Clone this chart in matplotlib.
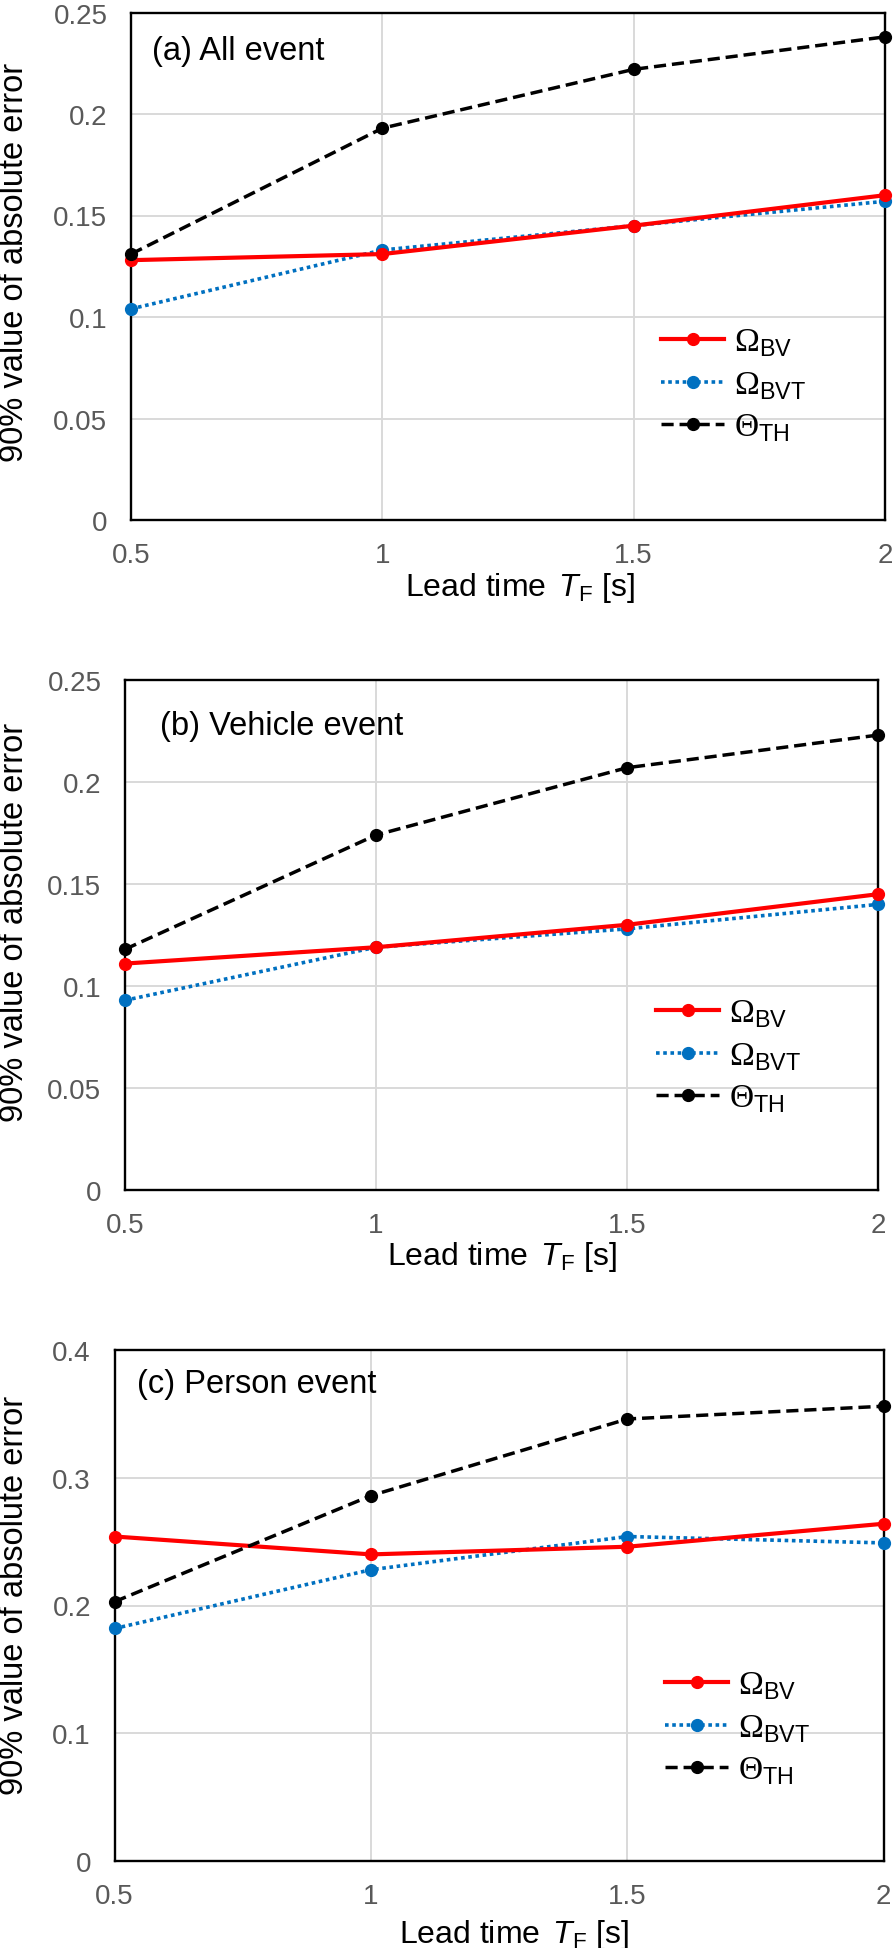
import matplotlib
matplotlib.use('Agg')
import matplotlib.pyplot as plt

# ---------------- data ----------------
lead_time = [0.5, 1.0, 1.5, 2.0]

all_bv = [0.128, 0.131, 0.145, 0.160]
all_bvt = [0.104, 0.133, 0.145, 0.157]
all_th = [0.131, 0.193, 0.222, 0.238]

veh_bv = [0.111, 0.119, 0.130, 0.145]
veh_bvt = [0.093, 0.119, 0.128, 0.140]
veh_th = [0.118, 0.174, 0.207, 0.223]

per_bv = [0.254, 0.240, 0.246, 0.264]
per_bvt = [0.182, 0.228, 0.254, 0.249]
per_th = [0.203, 0.286, 0.346, 0.356]

panel_titles = ['(a) All event', '(b) Vehicle event', '(c) Person event']
series_labels = ['Ω$_{\\mathrm{BV}}$', 'Ω$_{\\mathrm{BVT}}$', 'Θ$_{\\mathrm{TH}}$']
xticks = [0.5, 1.0, 1.5, 2.0]
xtick_labels = ['0.5', '1', '1.5', '2']
yticks_ab = [0, 0.05, 0.10, 0.15, 0.20, 0.25]
ytick_labels_ab = ['0', '0.05', '0.1', '0.15', '0.2', '0.25']
yticks_c = [0, 0.1, 0.2, 0.3, 0.4]
ytick_labels_c = ['0', '0.1', '0.2', '0.3', '0.4']
ylabel_text = '90% value of absolute error'
xlabel_text = r'Lead time $\,T_{\mathrm{F}}$ [s]'

# ---------------- style ----------------
plt.rcParams['font.family'] = ['Liberation Sans', 'DejaVu Sans']
plt.rcParams['mathtext.fontset'] = 'custom'
plt.rcParams['mathtext.rm'] = 'Liberation Sans'
plt.rcParams['mathtext.it'] = 'Liberation Sans:italic'
plt.rcParams['mathtext.bf'] = 'Liberation Sans:bold'

W, H = 894, 1949
fig = plt.figure(figsize=(W / 100, H / 100), dpi=100)

def px_rect(l, t, r, b):
    return [l / W, 1 - b / H, (r - l) / W, (b - t) / H]

panels = [
    dict(rect=(131, 13.5, 885, 521), data=(all_bv, all_bvt, all_th),
         yticks=yticks_ab, ylabels=ytick_labels_ab, ylim=0.25,
         title_xy=(152, 60), ylab_xy=(15, 262), xlab_xy=(520, 596),
         leg_xy=(661, 386)),
    dict(rect=(125, 681, 878, 1191), data=(veh_bv, veh_bvt, veh_th),
         yticks=yticks_ab, ylabels=ytick_labels_ab, ylim=0.25,
         title_xy=(160, 735), ylab_xy=(15, 922), xlab_xy=(502, 1265),
         leg_xy=(656, 1057)),
    dict(rect=(114.6, 1351, 883.7, 1862), data=(per_bv, per_bvt, per_th),
         yticks=yticks_c, ylabels=ytick_labels_c, ylim=0.4,
         title_xy=(137, 1393), ylab_xy=(15, 1595), xlab_xy=(514, 1943),
         leg_xy=(665, 1729)),
]

for i, p in enumerate(panels):
    ax = fig.add_axes(px_rect(*p['rect']))
    bv, bvt, th = p['data']
    ax.plot(lead_time, bv, color='#FF0000', lw=3.0, marker='o', ms=8.5,
            label=series_labels[0], clip_on=False, zorder=4)
    ax.plot(lead_time, bvt, color='#0070C0', lw=2.6, marker='o', ms=8.5,
            dashes=(1, 1.0), label=series_labels[1], clip_on=False, zorder=3)
    ax.plot(lead_time, th, color='#000000', lw=2.5, marker='o', ms=8.5,
            dashes=(3.5, 1.7), label=series_labels[2], clip_on=False, zorder=5)

    ax.set_xlim(0.5, 2.0)
    ax.set_ylim(0, p['ylim'])
    ax.set_xticks(xticks)
    ax.set_xticklabels(xtick_labels)
    ax.set_yticks(p['yticks'])
    ax.set_yticklabels(p['ylabels'])
    ax.tick_params(axis='both', length=0, labelsize=20, labelcolor='#595959')
    ax.tick_params(axis='y', pad=17)
    ax.tick_params(axis='x', pad=16)
    ax.grid(True, color='#D9D9D9', lw=1.4)
    ax.set_axisbelow(True)
    for s in ax.spines.values():
        s.set_color('black')
        s.set_linewidth(1.7)

    lx, ly = p['leg_xy']
    ax_l, ax_t, ax_r, ax_b = p['rect']
    ax.legend(loc='center left',
              bbox_to_anchor=((lx - ax_l) / (ax_r - ax_l), (ax_b - ly) / (ax_b - ax_t)),
              frameon=False, prop={'family': ['Liberation Serif'], 'size': 24},
              handlelength=1.9, handletextpad=0.3,
              labelspacing=0.33, borderpad=0, borderaxespad=0)

    tx, ty = p['title_xy']
    fig.text(tx / W, 1 - ty / H, panel_titles[i], fontsize=23.5,
             ha='left', va='baseline', color='black')
    yx, yy = p['ylab_xy']
    fig.text(yx / W, 1 - yy / H, ylabel_text, fontsize=23.5, rotation=90,
             ha='center', va='center', color='black')
    xx, xy = p['xlab_xy']
    fig.text(xx / W, 1 - xy / H, xlabel_text, fontsize=23,
             ha='center', va='baseline', color='black')

fig.savefig('out.png', dpi=100)
